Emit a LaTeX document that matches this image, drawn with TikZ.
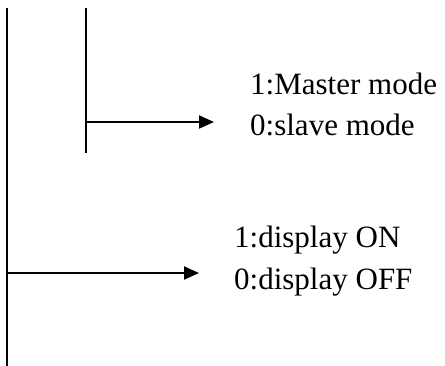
\documentclass[tikz,border=0pt]{standalone}
\usepackage{fontspec}
\setmainfont{Liberation Serif}
\usetikzlibrary{arrows.meta}
\begin{document}
\begin{tikzpicture}[x=1pt,y=-1pt,
  wire/.style={line width=2pt},
  arr/.style={line width=2pt,-{Triangle[length=15pt,width=13pt]}},
  lbl/.style={anchor=base west,inner sep=0pt,font=\fontsize{31}{37}\selectfont}]
\useasboundingbox (0,0) rectangle (445,365);
% vertical lines
\coordinate (l1top) at (7,8);
\coordinate (l1bot) at (7,366);
\coordinate (l2top) at (86,8);
\coordinate (l2bot) at (86,153);
\draw[wire] (l1top) -- (l1bot);
\draw[wire] (l2top) -- (l2bot);
% arrows
\coordinate (a1s) at (86,122);
\coordinate (a1e) at (214,122);
\coordinate (a2s) at (7,273);
\coordinate (a2e) at (199,273);
\draw[arr] (a1s) -- (a1e);
\draw[arr] (a2s) -- (a2e);
% labels
\node[lbl] (m1) at (250,94) {1:Master mode};
\node[lbl] (m0) at (250,135) {0:slave mode};
\node[lbl] (d1) at (234,247) {1:display ON};
\node[lbl] (d0) at (234,289) {0:display OFF};
\end{tikzpicture}
\end{document}
